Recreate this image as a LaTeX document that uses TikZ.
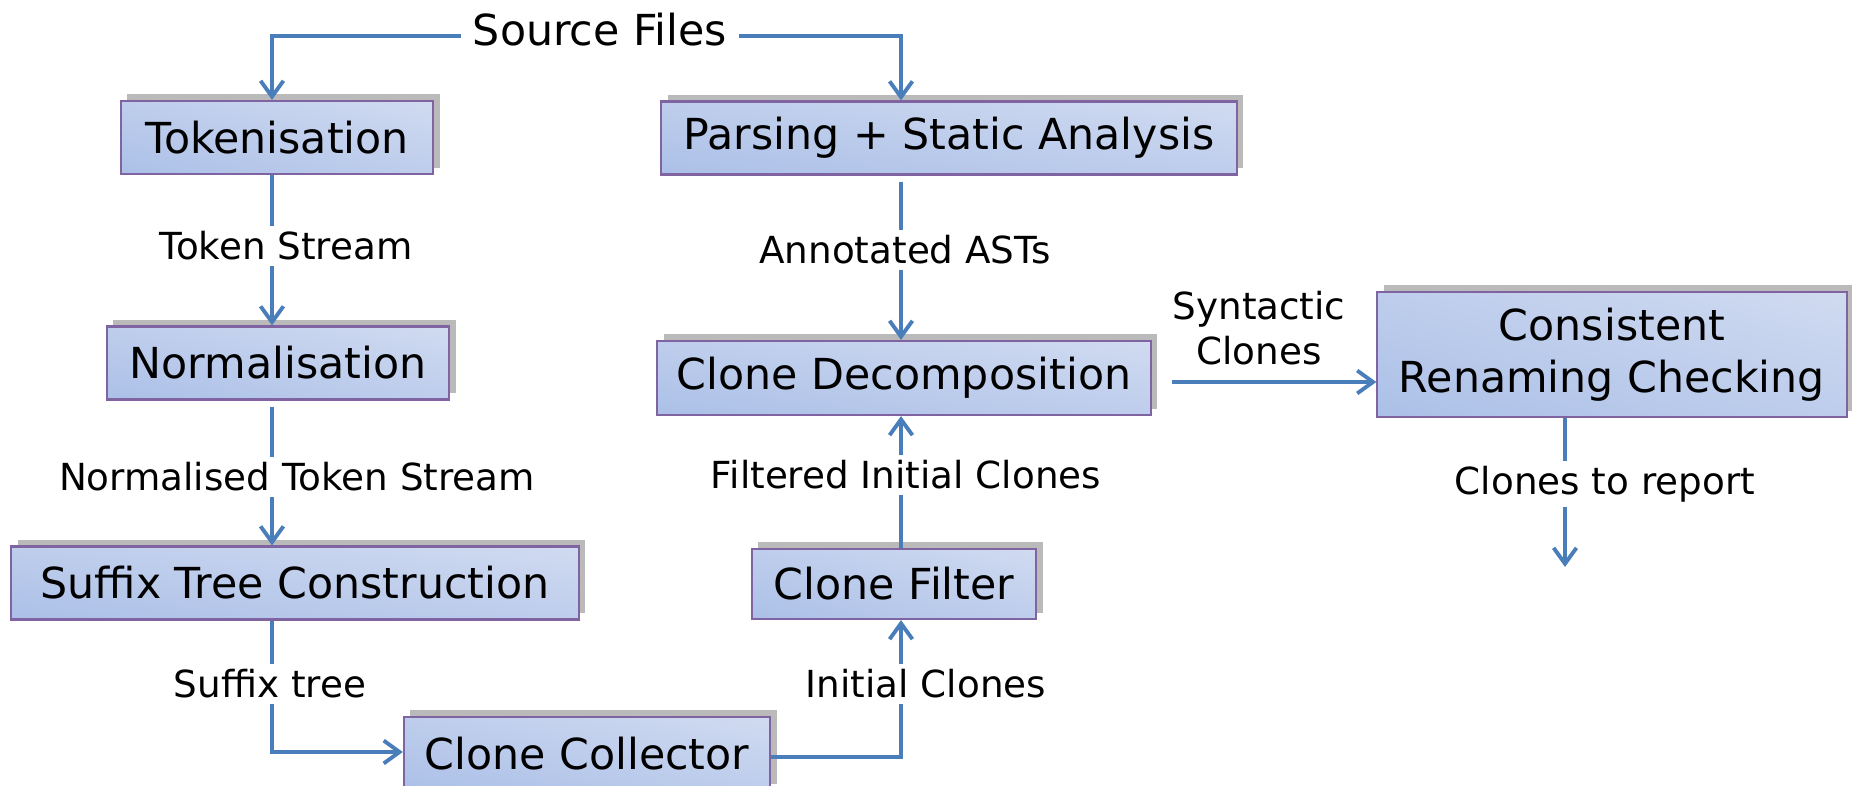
\documentclass[tikz,border=0pt]{standalone}
\usepackage{fontspec}
\setmainfont{DejaVu Sans}
\usetikzlibrary{arrows.meta,calc,shadows}
\definecolor{flowblue}{RGB}{74,126,187}
\definecolor{boxedge}{RGB}{128,100,162}
% diagonal fill of the stage boxes: darker blue at the lower left,
% pale blue at the upper right, stretched to each box
\pgfdeclarefunctionalshading{stagefill}{\pgfpoint{-50bp}{-50bp}}{\pgfpoint{50bp}{50bp}}{}{
  add 100 add 200 div
  dup 0.290 mul 0.600 add
  exch dup 0.210 mul 0.700 add
  exch 0.075 mul 0.888 add
}
\tikzset{
  stage/.style={draw=boxedge, line width=0.6pt,
    shade, shading=stagefill, shading angle=0,
    general shadow={shadow xshift=0.065cm, shadow yshift=0.065cm, fill=black!27},
    font=\fontsize{12.15}{14.8}\selectfont, align=center, inner sep=0pt},
  title/.style={font=\fontsize{12.15}{14.8}\selectfont, inner sep=1pt},
  flowlabel/.style={font=\fontsize{10.6}{12.9}\selectfont, fill=white, inner sep=1.5pt, align=center},
  flow/.style={draw=flowblue, line width=1.1pt, -{Straight Barb[length=4.5pt,width=6.5pt]}},
}
\begin{document}
\begin{tikzpicture}[x=0.01cm, y=-0.01cm]
\useasboundingbox (0,0) rectangle (1852,786);

% pipeline stages
\node[title] (src) at (600,30) {Source Files};
\node[stage, minimum width=3.12cm, minimum height=0.73cm] (tok) at (277,137.5) {Tokenisation};
\node[stage, minimum width=5.75cm, minimum height=0.73cm] (parse) at (949,138) {Parsing + Static Analysis};
\node[stage, minimum width=3.42cm, minimum height=0.73cm] (norm) at (278,363) {Normalisation};
\node[stage, minimum width=4.93cm, minimum height=0.74cm] (decomp) at (904,378) {Clone Decomposition};
\node[stage, minimum width=4.69cm, minimum height=1.25cm] (crc) at (1612,354.5) {Consistent\\Renaming Checking};
\node[stage, minimum width=5.67cm, minimum height=0.73cm] (suffix) at (295,583) {Suffix Tree Construction};
\node[stage, minimum width=2.84cm, minimum height=0.70cm] (filter) at (894,584) {Clone Filter};
\node[stage, minimum width=3.66cm, minimum height=0.73cm] (collect) at (587,753.5) {Clone Collector};

% column axes of the connectors
\coordinate (colL) at (272,0);
\coordinate (colM) at (901,0);
\coordinate (colR) at (1565,0);
\coordinate (report) at (1565,567);

% connectors
\draw[flow] ($(src.west)+(-8,6)$) -| (tok.north -| colL);
\draw[flow] ($(src.east)+(8,6)$) -| (parse.north -| colM);
\draw[flow] (tok.south -| colL) -- (norm.north -| colL);
\draw[flow] ($(norm.south -| colL)+(0,6)$) -- (suffix.north -| colL);
\draw[flow] (suffix.south -| colL) |- ($(collect.west)+(0,-1.5)$);
\draw[flow] ($(collect.east)+(0,3.5)$) -| (filter.south -| colM);
\draw[flow] (filter.north -| colM) -- (decomp.south -| colM);
\draw[flow] ($(parse.south -| colM)+(0,6)$) -- (decomp.north -| colM);
\draw[flow] ($(decomp.east)+(20,4)$) -- (crc.west |- 0,382);
\draw[flow] (crc.south -| colR) -- (report);

% connector labels
\node[flowlabel] (lts) at (286,246) {Token Stream};
\node[flowlabel] (lnts) at (297,477) {Normalised Token Stream};
\node[flowlabel] (lst) at (270,684) {Suffix tree};
\node[flowlabel] (lic) at (926,684) {Initial Clones};
\node[flowlabel] (lfic) at (906,475) {Filtered Initial Clones};
\node[flowlabel] (last) at (905,250) {Annotated ASTs};
\node[flowlabel, fill=none] (lsc) at (1259,328) {Syntactic\\Clones};
\node[flowlabel] (lcr) at (1605,484) {Clones to report};
\end{tikzpicture}
\end{document}
